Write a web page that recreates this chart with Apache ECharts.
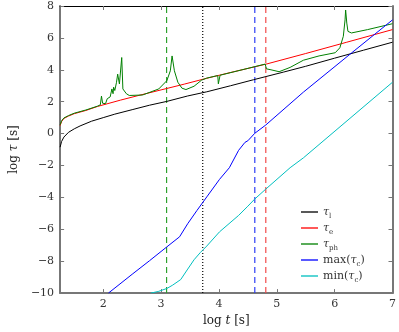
<!DOCTYPE html>
<html>
<head>
<meta charset="utf-8">
<script src="https://cdn.jsdelivr.net/npm/echarts@6/dist/echarts.min.js"></script>
<style>
  html, body { margin: 0; padding: 0; background: #fff; }
  #chart { width: 399px; height: 332px; }
</style>
</head>
<body>
<div id="chart"></div>
<script>
//////////////////////////////////////////////////////////////////
// [ Data ], [log t, log tau]

var xTicks = [2, 3, 4, 5, 6, 7];
var yTicks = [-10, -8, -6, -4, -2, 0, 2, 4, 6, 8];

var tauL = [
    [1.255, -0.85], [1.28, -0.5], [1.32, -0.22], [1.4, 0.08], [1.5, 0.3], [1.6, 0.48],
    [1.8, 0.78], [2.0, 1.0], [2.2, 1.22], [2.5, 1.5], [2.8, 1.78], [3.1, 2.02],
    [3.46, 2.36], [3.79, 2.62], [4.2, 3.0], [4.6, 3.38], [5.12, 3.86], [5.5, 4.22],
    [6.0, 4.73], [6.5, 5.23], [7.0, 5.73]
];

var tauE = [
    [1.255, 0.5], [1.28, 0.75], [1.32, 0.95], [1.4, 1.1], [1.5, 1.25], [1.7, 1.45],
    [1.9, 1.7], [2.1, 1.9], [2.3, 2.1], [2.6, 2.38], [3.0, 2.74], [3.4, 3.1],
    [3.79, 3.47], [4.2, 3.83], [4.81, 4.35], [5.5, 5.02], [6.2, 5.72], [7.0, 6.52]
];

var tauPh = [
    [1.255, 0.55], [1.28, 0.8], [1.32, 0.98], [1.4, 1.13], [1.5, 1.28], [1.7, 1.48],
    [1.9, 1.72], [1.95, 1.8], [1.97, 2.35], [1.99, 1.9], [2.02, 2.0], [2.04, 1.88],
    [2.07, 2.19], [2.12, 2.3], [2.15, 2.8], [2.17, 2.5], [2.18, 2.91], [2.2, 2.7],
    [2.23, 3.22], [2.25, 3.73], [2.28, 3.11], [2.32, 4.77], [2.34, 2.8], [2.4, 2.5],
    [2.45, 2.39], [2.68, 2.42], [2.96, 2.8], [3.1, 3.32], [3.16, 3.94], [3.19, 4.87],
    [3.23, 3.94], [3.29, 3.22], [3.36, 2.85], [3.43, 2.76], [3.57, 2.97], [3.7, 3.35],
    [3.79, 3.48], [3.98, 3.64], [3.99, 3.12], [4.01, 3.12], [4.02, 3.66], [4.4, 4.0],
    [4.8, 4.36], [4.82, 4.06], [4.9, 4.0], [5.04, 3.88], [5.23, 4.15], [5.46, 4.6],
    [5.73, 4.87], [6.01, 5.07], [6.09, 5.38], [6.15, 6.1], [6.18, 7.13], [6.19, 7.75],
    [6.21, 6.93], [6.23, 6.41], [6.29, 6.31], [6.57, 6.52], [7.0, 6.89]
];

var tauCMax = [
    [2.09, -10], [2.5, -8.82], [2.8, -7.97], [3.1, -7.1], [3.32, -6.47], [3.46, -5.65],
    [3.62, -4.82], [3.79, -3.97], [4.01, -2.87], [4.18, -2.14], [4.34, -1.05],
    [4.45, -0.55], [4.5, -0.45], [4.62, 0.02], [4.81, 0.54], [5.46, 2.6], [6.29, 5.05],
    [7.0, 7.13]
];

var tauCMin = [
    [2.82, -10], [2.95, -9.9], [3.1, -9.71], [3.2, -9.5], [3.34, -9.15], [3.45, -8.55],
    [3.57, -7.91], [3.68, -7.45], [3.79, -7.05], [4.01, -6.16], [4.34, -5.13],
    [4.5, -4.55], [4.62, -4.1], [4.81, -3.48], [5.23, -2.14], [5.46, -1.52], [7.0, 3.22]
];

// vertical markers: position, colour, dash
var vLines = [
    { x: 3.095, color: '#2ca02c', type: [6, 4] },
    { x: 3.72, color: '#000000', type: [1, 2] },
    { x: 4.62, color: '#2b3cf5', type: [6, 4] },
    { x: 4.81, color: '#f24a4a', type: [6, 4] }
];

//////////////////////////////////////////////////////////////////
// [ Chart ]

var serif = 'DejaVu Serif';
var chart = echarts.init(document.getElementById('chart'), null, { renderer: 'canvas' });

var legendLabels = {
    tl: '{i|τ}{s|l}',
    te: '{i|τ}{s|e}',
    tph: '{i|τ}{s|ph}',
    cmax: '{n|max(}{i|τ}{s|c}{n|)}',
    cmin: '{n|min(}{i|τ}{s|c}{n|)}'
};

function curve(name, data, color) {
    return {
        name: name,
        type: 'line',
        data: data,
        symbol: 'none',
        smooth: false,
        lineStyle: { color: color, width: 1 },
        itemStyle: { color: color },
        z: 3
    };
}

var series = [
    curve('tl', tauL, '#000000'),
    curve('te', tauE, '#ff0000'),
    curve('tph', tauPh, '#008000'),
    curve('cmax', tauCMax, '#0000ff'),
    curve('cmin', tauCMin, '#00bfbf')
];

vLines.forEach(function (v, i) {
    series.push({
        name: 'v' + i,
        type: 'line',
        data: [[v.x, -10], [v.x, 8]],
        symbol: 'none',
        lineStyle: { color: v.color, width: 1.2, type: v.type },
        z: 2
    });
});

var fmt = function (v) { return String(v).replace('-', '\u2212'); };
var tickStyle = { show: true, inside: true, length: 4, lineStyle: { color: '#777', width: 1 } };

var options = {
    animation: false,
    grid: { left: 48, right: 6, top: 6, bottom: 35, containLabel: false },
    legend: {
        left: 296,
        top: 199,
        orient: 'vertical',
        itemWidth: 17,
        itemHeight: 2,
        itemGap: 0,
        itemTextGap: 11,
        icon: 'rect',
        data: ['tl', 'te', 'tph', 'cmax', 'cmin'].map(function (n) {
            return { name: n, itemStyle: { opacity: 0.65 } };
        }),
        formatter: function (name) { return legendLabels[name]; },
        textStyle: {
            fontFamily: serif,
            color: '#333',
            lineHeight: 16,
            rich: {
                n: { fontFamily: serif, fontSize: 11, color: '#333', lineHeight: 16 },
                i: { fontFamily: serif, fontSize: 11, fontStyle: 'italic', color: '#333', lineHeight: 16 },
                s: { fontFamily: serif, fontSize: 7, color: '#333', lineHeight: 10, verticalAlign: 'bottom' }
            }
        }
    },
    xAxis: [
        {
            type: 'value',
            min: 1.255,
            max: 7,
            position: 'bottom',
            name: '{n|log }{i|t}{n| [s]}',
            nameLocation: 'middle',
            nameGap: 17,
            nameTextStyle: {
                rich: {
                    n: { fontFamily: serif, fontSize: 12, color: '#222' },
                    i: { fontFamily: serif, fontSize: 12, fontStyle: 'italic', color: '#222' }
                }
            },
            axisLine: { show: true, onZero: false, lineStyle: { color: '#777', width: 2 } },
            axisTick: Object.assign({ customValues: xTicks }, tickStyle),
            axisLabel: { customValues: xTicks, fontFamily: serif, fontSize: 11, color: '#333', margin: 6 },
            splitLine: { show: false }
        },
        {
            type: 'value',
            min: 1.255,
            max: 7,
            position: 'top',
            axisLine: { show: true, onZero: false, lineStyle: { color: '#000', width: 1 } },
            axisTick: Object.assign({ customValues: xTicks }, tickStyle),
            axisLabel: { show: false },
            splitLine: { show: false }
        }
    ],
    yAxis: [
        {
            type: 'value',
            min: -10,
            max: 8,
            interval: 2,
            position: 'left',
            name: '{n|log }{i|τ}{n| [s]}',
            nameLocation: 'middle',
            nameRotate: 90,
            nameGap: 31,
            nameTextStyle: {
                rich: {
                    n: { fontFamily: serif, fontSize: 12, color: '#222' },
                    i: { fontFamily: serif, fontSize: 12, fontStyle: 'italic', color: '#222' }
                }
            },
            axisLine: { show: true, onZero: false, lineStyle: { color: '#777', width: 2 } },
            axisTick: tickStyle,
            axisLabel: { fontFamily: serif, fontSize: 11, color: '#333', margin: 6, formatter: fmt },
            splitLine: { show: false }
        },
        {
            type: 'value',
            min: -10,
            max: 8,
            interval: 2,
            position: 'right',
            axisLine: { show: true, onZero: false, lineStyle: { color: '#777', width: 2 } },
            axisTick: tickStyle,
            axisLabel: { show: false },
            splitLine: { show: false }
        }
    ],
    series: series
};

chart.setOption(options);
</script>
</body>
</html>
